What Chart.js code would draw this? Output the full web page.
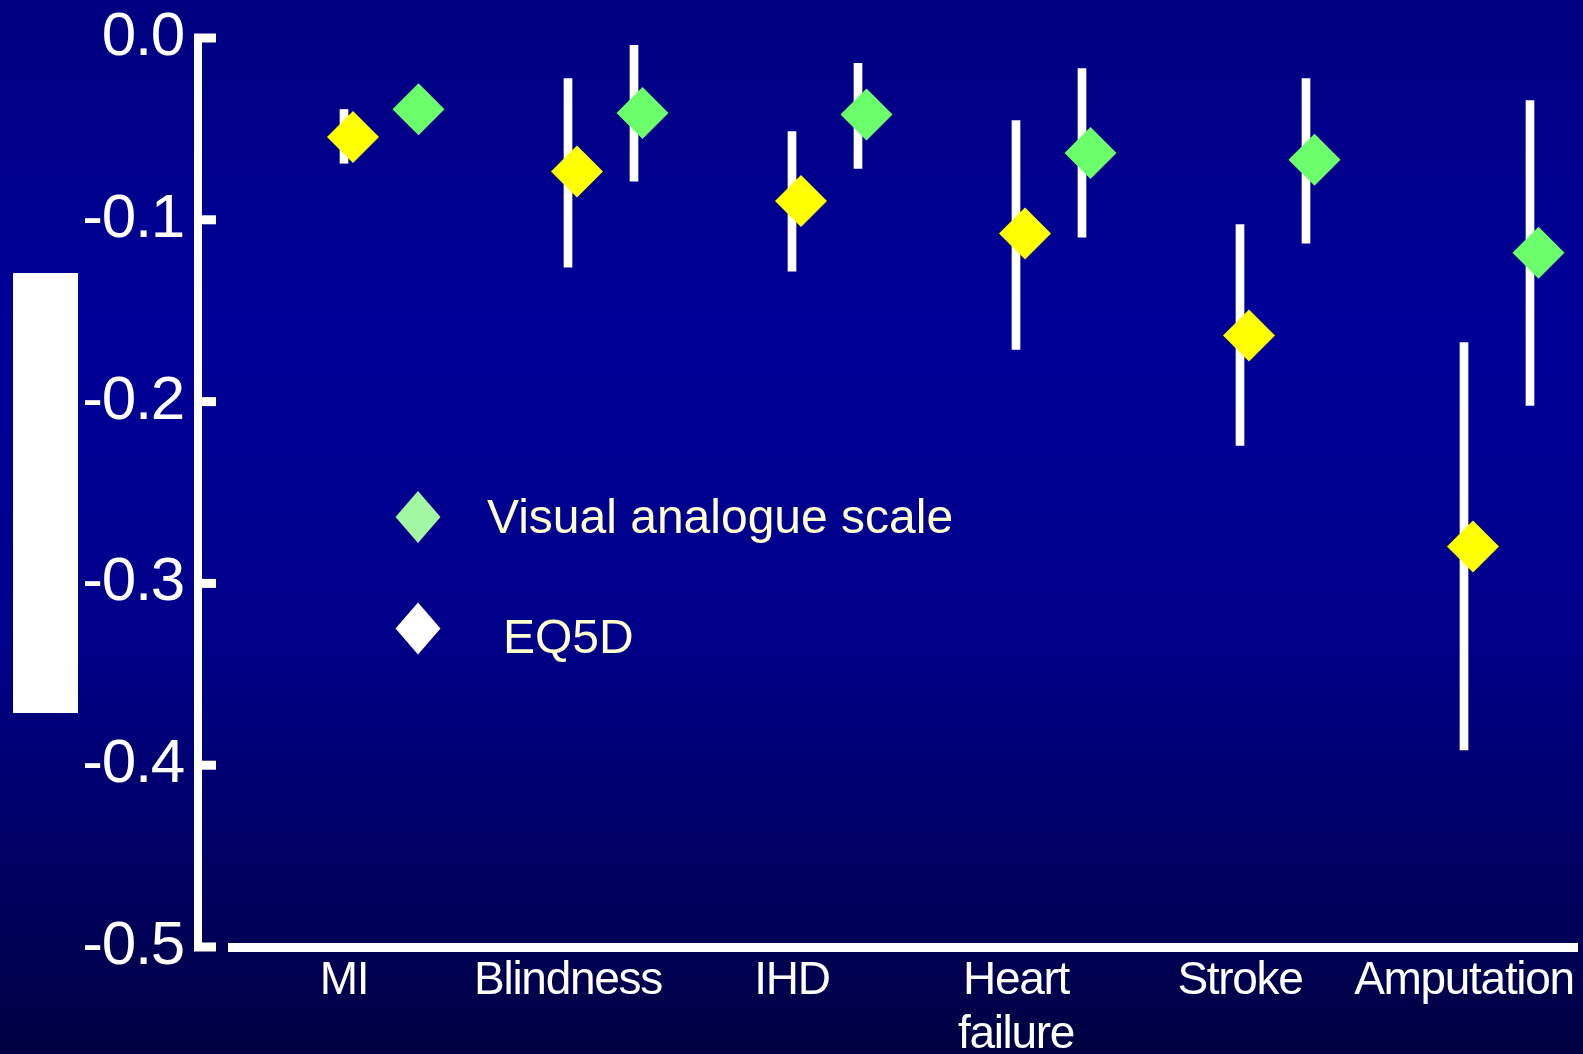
<!DOCTYPE html>
<html>
<head>
<meta charset="utf-8">
<script src="https://cdn.jsdelivr.net/npm/chart.js@4"></script>
<style>
  html, body { margin: 0; padding: 0; background: #000080; overflow: hidden; }
  #wrap { position: relative; width: 1583px; height: 1054px; }
  canvas { display: block; }
</style>
</head>
<body>
<div id="wrap"><canvas id="c" width="1583" height="1054"></canvas></div>
<script>
// ---- Data ----
const categories = ['MI', 'Blindness', 'IHD', ['Heart', 'failure'], 'Stroke', 'Amputation'];
const eq5dMean = [-0.0544, -0.0735, -0.0896, -0.1076, -0.1637, -0.2797];
const eq5dLow  = [-0.0689, -0.1261, -0.1283, -0.1713, -0.2241, -0.3916];
const eq5dHigh = [-0.0393, -0.0223, -0.0515, -0.0454, -0.1026, -0.1676];
const vasMean  = [-0.0392, -0.0412, -0.0421, -0.0632, -0.0670, -0.1181];
const vasLow   = [null,    -0.0788, -0.0718, -0.1096, -0.1129, -0.2021];
const vasHigh  = [null,    -0.0041, -0.0140, -0.0168, -0.0223, -0.0344];
const yTicks = [0, -0.1, -0.2, -0.3, -0.4, -0.5];
const legendLabels = ['Visual analogue scale', 'EQ5D'];

// ---- Layout constants ----
const FONT = "'Liberation Sans', Arial, Helvetica, sans-serif";
const PX_PER_CAT = 224;
const off = { eqBar: 0, eqPt: 9 / PX_PER_CAT, vasBar: 66 / PX_PER_CAT, vasPt: 74.5 / PX_PER_CAT };
const AREA_L = 198, AREA_R = 1578, FIRST_CAT_PX = 344;
const X_MIN = (AREA_L - FIRST_CAT_PX) / PX_PER_CAT;
const X_MAX = (AREA_R - FIRST_CAT_PX) / PX_PER_CAT;

const YELLOW = '#ffff00';
const GREEN = '#6cff6c';
const LEGEND_GREEN = '#a2f7a2';
const LEGEND_TEXT = '#ffffcc';

function pts(mean, dx) {
  return mean.map((v, i) => ({ x: i + dx, y: v }));
}
function bars(lo, hi, dx) {
  const out = [];
  lo.forEach((v, i) => { if (v !== null && hi[i] !== null) out.push({ x: i + dx, y: [v, hi[i]] }); });
  return out;
}

const decor = {
  id: 'decor',
  beforeDraw(chart) {
    const ctx = chart.ctx;
    const W = chart.width, H = chart.height;
    ctx.save();
    const g = ctx.createLinearGradient(0, 0, 0, H);
    g.addColorStop(0, 'rgb(0,0,128)');
    g.addColorStop(0.3, 'rgb(0,0,152)');
    g.addColorStop(0.6, 'rgb(0,0,138)');
    g.addColorStop(1, 'rgb(0,0,66)');
    ctx.fillStyle = g;
    ctx.fillRect(0, 0, W, H);
    // white block at the left
    ctx.fillStyle = '#ffffff';
    ctx.fillRect(13, 273, 65, 440);
    ctx.restore();
    // slightly tighter axis label text, as in the reference
    if ('letterSpacing' in ctx) ctx.letterSpacing = '-1.3px';
  },
  beforeDatasetsDraw(chart) {
    const ctx = chart.ctx;
    const ys = chart.scales.y;
    const ca = chart.chartArea;
    const top = ys.getPixelForValue(0);
    const bot = ys.getPixelForValue(-0.5);
    ctx.save();
    ctx.fillStyle = '#ffffff';
    // y axis line
    ctx.fillRect(ca.left - 4, top - 4.5, 8, bot - top + 9);
    // tick marks pointing into the plot
    yTicks.forEach(v => {
      const p = ys.getPixelForValue(v);
      ctx.fillRect(ca.left + 4, p - 4.5, 14, 9);
    });
    // x axis line (detached from y axis)
    ctx.fillRect(228, bot - 4, ca.right - 228, 9);
    ctx.restore();
  },
  afterDraw(chart) {
    const ctx = chart.ctx;
    if ('letterSpacing' in ctx) ctx.letterSpacing = '0px';
    ctx.save();
    const diamond = (cx, cy, w, h, color) => {
      ctx.beginPath();
      ctx.moveTo(cx, cy - h / 2);
      ctx.lineTo(cx + w / 2, cy);
      ctx.lineTo(cx, cy + h / 2);
      ctx.lineTo(cx - w / 2, cy);
      ctx.closePath();
      ctx.fillStyle = color;
      ctx.fill();
    };
    diamond(418, 517, 45, 52, LEGEND_GREEN);
    diamond(418, 628.5, 45, 52, '#ffffff');
    ctx.fillStyle = LEGEND_TEXT;
    ctx.font = '48px ' + FONT;
    ctx.textAlign = 'left';
    ctx.textBaseline = 'alphabetic';
    ctx.fillText(legendLabels[0], 487, 533);
    ctx.fillText(legendLabels[1], 503, 653);
    ctx.restore();
  }
};

new Chart(document.getElementById('c'), {
  type: 'scatter',
  data: {
    datasets: [
      { type: 'scatter', label: legendLabels[1], data: pts(eq5dMean, off.eqPt), order: 0,
        pointStyle: 'rectRot', pointRadius: 26, pointBackgroundColor: YELLOW, pointBorderWidth: 0, pointHoverRadius: 26 },
      { type: 'scatter', label: legendLabels[0], data: pts(vasMean, off.vasPt), order: 0,
        pointStyle: 'rectRot', pointRadius: 26, pointBackgroundColor: GREEN, pointBorderWidth: 0, pointHoverRadius: 26 },
      { type: 'bar', label: legendLabels[1] + ' CI', data: bars(eq5dLow, eq5dHigh, off.eqBar), order: 1,
        backgroundColor: '#ffffff', borderWidth: 0, barThickness: 8, grouped: false },
      { type: 'bar', label: legendLabels[0] + ' CI', data: bars(vasLow, vasHigh, off.vasBar), order: 1,
        backgroundColor: '#ffffff', borderWidth: 0, barThickness: 8, grouped: false }
    ]
  },
  options: {
    responsive: false,
    animation: false,
    events: [],
    layout: { autoPadding: false, padding: { top: 38, right: 1583 - AREA_R, left: 0, bottom: 0 } },
    plugins: { legend: { display: false }, tooltip: { enabled: false } },
    scales: {
      x: {
        type: 'linear', min: X_MIN, max: X_MAX, offset: false,
        grid: { display: false, drawTicks: false }, border: { display: false },
        afterBuildTicks: s => { s.ticks = categories.map((_, i) => ({ value: i })); },
        afterFit: s => { s.height = 107; s.paddingLeft = 0; s.paddingRight = 0; s.paddingTop = 0; s.paddingBottom = 0; },
        ticks: {
          autoSkip: false, maxRotation: 0, minRotation: 0, padding: 7,
          color: '#ffffff', font: { family: FONT, size: 46, lineHeight: 1.174 },
          callback: v => categories[v]
        }
      },
      y: {
        type: 'linear', min: -0.5, max: 0,
        grid: { display: false, drawTicks: false }, border: { display: false },
        afterBuildTicks: s => { s.ticks = yTicks.map(v => ({ value: v })); },
        afterFit: s => { s.width = AREA_L; s.paddingLeft = 0; s.paddingRight = 0; s.paddingTop = 0; s.paddingBottom = 0; },
        ticks: {
          padding: 14, color: '#ffffff', font: { family: FONT, size: 62 },
          callback: v => v.toFixed(1)
        }
      }
    }
  },
  plugins: [decor]
});
</script>
</body>
</html>
